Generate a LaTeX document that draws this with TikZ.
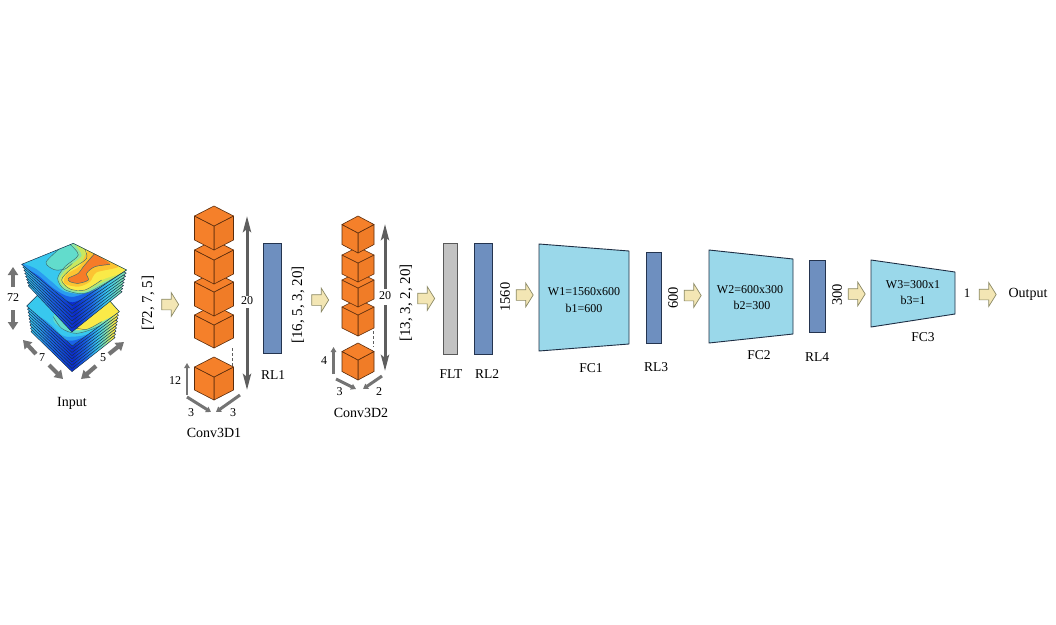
\documentclass[tikz,border=0pt]{standalone}
\usepackage{fontspec}
\setmainfont{Liberation Serif}
\usetikzlibrary{arrows.meta,shapes.arrows,calc}
\definecolor{cubeface}{HTML}{F5802A}
\definecolor{cubeside}{HTML}{F07C27}
\definecolor{cubeedge}{HTML}{5A2C0C}
\definecolor{rlblue}{HTML}{6E8FBF}
\definecolor{rledge}{HTML}{24344F}
\definecolor{fcblue}{HTML}{9AD8EA}
\definecolor{fcedge}{HTML}{1E2E44}
\definecolor{fltgray}{HTML}{C2C2C2}
\definecolor{flowfill}{HTML}{F3E6B4}
\definecolor{flowedge}{HTML}{8C8A66}
\definecolor{dimdark}{HTML}{5E5E5E}
\definecolor{dimgray}{HTML}{747474}
\definecolor{sheetline}{HTML}{16304C}
\definecolor{isoline}{HTML}{3A6A70}
\definecolor{mapcyan}{HTML}{38C8EE}
\definecolor{mapsky}{HTML}{2A9CF0}
\definecolor{mapblue}{HTML}{1A62E6}
\definecolor{mapdeep}{HTML}{0C2CCC}
\definecolor{mapaqua}{HTML}{62DCCC}
\definecolor{mapmint}{HTML}{8CE4A4}
\definecolor{maplime}{HTML}{C8E860}
\definecolor{mapyellow}{HTML}{FAEA48}
\definecolor{mapamber}{HTML}{FCC432}
\definecolor{maporange}{HTML}{F67C28}
\pgfdeclarehorizontalshading{sheetupper}{100bp}{
  color(0bp)=(mapcyan); color(25bp)=(mapcyan);
  color(38bp)=(mapblue); color(50bp)=(mapdeep); color(58bp)=(mapblue);
  color(66bp)=(mapcyan); color(75bp)=(mapmint); color(100bp)=(mapmint)}
\pgfdeclarehorizontalshading{sheetlower}{100bp}{
  color(0bp)=(mapcyan); color(25bp)=(mapcyan);
  color(38bp)=(mapblue); color(50bp)=(mapdeep); color(57bp)=(mapblue);
  color(64bp)=(mapcyan); color(69bp)=(mapmint); color(73bp)=(mapyellow); color(75bp)=(mapyellow); color(100bp)=(mapyellow)}
\newcommand{\solidcube}[5]{%
  % centre x, front vertex y, half width, half height of the top face, side height
  \fill[cubeside,draw=cubeedge,line width=.6pt,line join=round]
    (#1,#2) -- (#1+#3,#2-#4) -- (#1+#3,#2-#4+#5) -- (#1,#2+#5) -- cycle;
  \fill[cubeface,draw=cubeedge,line width=.6pt,line join=round]
    (#1,#2) -- (#1-#3,#2-#4) -- (#1-#3,#2-#4+#5) -- (#1,#2+#5) -- cycle;
  \fill[cubeface,draw=cubeedge,line width=.6pt,line join=round]
    (#1,#2) -- (#1-#3,#2-#4) -- (#1,#2-2*#4) -- (#1+#3,#2-#4) -- cycle;
}
\tikzset{
  flow/.style={single arrow,draw=flowedge,fill=flowfill,line width=.7pt,inner xsep=0pt,inner ysep=5pt,
    minimum height=17pt,single arrow head extend=6.5pt,single arrow tip angle=116,
    single arrow head indent=0pt},
  rl/.style={draw=rledge,fill=rlblue,line width=.9pt,inner sep=0pt},
  flt/.style={draw=black!65,fill=fltgray,line width=.9pt,inner sep=0pt},
  fc/.style={draw=fcedge,fill=fcblue,line width=.9pt,line join=round},
  lab/.style={font=\fontsize{13.5}{15}\selectfont,inner sep=0pt},
  shapelab/.style={font=\fontsize{15}{17}\selectfont,inner sep=0pt,rotate=90},
  sizelab/.style={font=\fontsize{14.5}{16}\selectfont,inner sep=0pt,rotate=90},
  weight/.style={font=\fontsize{12}{14}\selectfont,inner sep=0pt},
  dimlab/.style={font=\fontsize{12}{14}\selectfont,inner sep=0pt},
  longdim/.style={draw=dimdark,line width=3pt,-{Stealth[length=16pt,width=8pt,inset=3pt,fill=dimdark]}},
  shortdim/.style={draw=dimgray,line width=3pt,-{Triangle[length=5pt,width=6pt,fill=dimgray]}},
  shortup/.style={draw=dimgray,line width=2.4pt,-{Triangle[length=5pt,width=5.5pt,fill=dimgray]}},
  inputdim/.style={draw=dimgray,line width=4.2pt,-{Triangle[length=8pt,width=10pt,fill=dimgray]}},
  sheet/.style={draw=sheetline,line width=.5pt,line join=round}
}
\begin{document}
\begin{tikzpicture}[x=1pt,y=-1pt]
\useasboundingbox (0,0) rectangle (1056,624);
\fill[white] (0,0) rectangle (1056,624);

% lower block of the input volume
\foreach \i in {8,...,1}{
  \path[sheet,shading=sheetlower]
    ({27+\i*0.5},{306+\i*3.2}) -- ({73},{262+\i*3.2}) -- ({119-\i*0.5},{312+\i*3.2}) -- (72,{346+\i*3.2}) -- cycle;
}
\begin{scope}[shift={(15,300)},x=.3333pt,y=-.3333pt]
  \begin{scope}
    \clip (35,18) -- (175,-120) -- (313,35) -- (172,138) -- cycle;
    \fill[mapcyan] (0,-120) rectangle (340,138);
    \fill[mapsky] plot[smooth cycle] coordinates {(30,40) (90,60) (140,105) (172,110) (225,100) (330,40) (330,150) (30,150)};
    \fill[mapblue] plot[smooth cycle] coordinates {(60,60) (100,85) (140,115) (172,122) (205,112) (260,90) (250,150) (70,150)};
    \fill[mapaqua] plot[smooth cycle] coordinates {(115,50) (140,85) (185,100) (250,80) (330,30) (320,-20) (180,-30)};
    \fill[mapmint] plot[smooth cycle] coordinates {(150,70) (185,92) (240,80) (330,28) (320,-15) (200,0)};
    \fill[mapyellow] plot[smooth cycle] coordinates {(175,82) (215,88) (260,65) (330,25) (300,-10) (220,20)};
    \draw[isoline,line width=.45pt] plot[smooth] coordinates {(115,50) (140,85) (185,100) (250,80) (310,42)};
    \draw[isoline,line width=.45pt] plot[smooth] coordinates {(175,82) (215,88) (260,65)};
  \end{scope}
  \draw[sheet] (35,18) -- (175,-120) -- (313,35) -- (172,138) -- cycle;
\end{scope}

% upper block of the input volume
\foreach \i in {7,...,1}{
  \path[sheet,shading=sheetupper]
    ({22+\i*0.9},{264+\i*3.1}) -- (73,{243+\i*3.1}) -- ({127-\i*0.7},{270+\i*3.1}) -- (72,{306+\i*3.7}) -- cycle;
}
\begin{scope}[shift={(15,235)},x=.3333pt,y=-.3333pt]
  \begin{scope}
    \clip (20,88) -- (175,25) -- (335,105) -- (172,212) -- cycle;
    \fill[mapcyan] (0,20) rectangle (340,215);
    % contour bands, from the wide cool ones to the warm core
    \fill[mapsky] plot[smooth cycle] coordinates {(5,85) (60,100) (110,140) (150,170) (215,165) (290,130) (350,100) (345,235) (170,235) (5,130)};
    \fill[mapblue] plot[smooth cycle] coordinates {(25,100) (70,122) (115,160) (170,186) (250,158) (320,120) (330,225) (170,230) (40,145)};
    \fill[mapdeep] plot[smooth cycle] coordinates {(110,178) (172,202) (240,178) (250,225) (172,235) (100,225)};
    \fill[mapaqua] plot[smooth cycle] coordinates {(135,40) (93,82) (118,104) (150,104) (128,135) (150,168) (205,176) (265,152) (345,108) (260,45) (170,15)};
    \fill[mapmint] plot[smooth cycle] coordinates {(165,20) (190,60) (150,95) (128,130) (148,163) (205,174) (262,150) (345,105) (260,45)};
    \fill[maplime] plot[smooth cycle] coordinates {(185,30) (200,62) (158,98) (134,132) (155,160) (205,170) (260,143) (340,105) (265,50)};
    \fill[mapyellow] plot[smooth cycle] coordinates {(205,35) (215,70) (165,105) (140,135) (165,162) (210,165) (260,135) (330,105) (270,55)};
    \fill[mapamber] plot[smooth cycle] coordinates {(225,42) (195,92) (155,118) (148,145) (190,155) (225,140) (245,112) (310,95) (285,60)};
    \fill[maporange] plot[smooth cycle] coordinates {(240,55) (205,95) (190,115) (160,130) (165,140) (190,145) (220,135) (215,115) (240,95) (285,88) (262,70)};
    \draw[isoline,line width=.45pt] plot[smooth] coordinates {(135,40) (93,82) (118,104) (150,102) (172,85)};
    \draw[isoline,line width=.45pt] plot[smooth] coordinates {(165,28) (190,60) (150,95) (128,130) (148,163) (205,176) (262,150) (335,105)};
    \draw[isoline,line width=.45pt] plot[smooth] coordinates {(205,35) (215,70) (165,105) (140,135) (165,162) (210,165) (260,135)};
    \draw[isoline,line width=.45pt] plot[smooth] coordinates {(240,55) (205,95) (190,115) (160,130) (165,140) (190,145) (220,135) (215,115) (240,95) (285,88)};
  \end{scope}
  \draw[sheet] (20,88) -- (175,25) -- (335,105) -- (172,212) -- cycle;
\end{scope}

% size arrows around the input volume
\coordinate (iUa) at (13,287); \coordinate (iUb) at (13,267);
\coordinate (iDa) at (13,310); \coordinate (iDb) at (13,330);
\coordinate (iLa) at (36,354); \coordinate (iLb) at (23,340);
\coordinate (iMa) at (49,365); \coordinate (iMb) at (63,379);
\coordinate (iRa) at (109,354); \coordinate (iRb) at (124,342);
\coordinate (iSa) at (96,366); \coordinate (iSb) at (81,379);
\foreach \a/\b in {iUa/iUb,iDa/iDb,iLa/iLb,iMa/iMb,iRa/iRb,iSa/iSb}{\draw[inputdim] (\a) -- (\b);}
\node[dimlab] (n72) at (13,298) {72};
\node[dimlab] (n7) at (42,358) {7};
\node[dimlab] (n5) at (103,358) {5};
\node[lab,font=\fontsize{14}{16}\selectfont] (input) at (72,403) {Input};
\node[shapelab] (sh1) at (148,303) {[72, 7, 5]};
\node[flow] (f1) at (168.5,304.5) {};

% first convolution stage
\solidcube{214}{325}{19.5}{10}{23}
\solidcube{214}{292}{19.5}{10}{24}
\solidcube{214}{260}{19.5}{10}{24}
\solidcube{214}{226}{19.5}{10}{24}
\coordinate (c1a) at (232,348); \coordinate (c1b) at (232,366);
\draw[dimdark,line width=.7pt,densely dashed] (c1a) -- (c1b);
\solidcube{214}{377}{19.5}{10}{23}
\coordinate (c1Ua) at (247,296); \coordinate (c1Ub) at (247,216);
\coordinate (c1Da) at (247,308); \coordinate (c1Db) at (247,390);
\draw[longdim] (c1Ua) -- (c1Ub);
\draw[longdim] (c1Da) -- (c1Db);
\node[dimlab] (n20a) at (247,301) {20};
\coordinate (c1Ha) at (187,395); \coordinate (c1Hb) at (187,363);
\draw[shortup] (c1Ha) -- (c1Hb);
\coordinate (c1La) at (187,397); \coordinate (c1Lb) at (211,412);
\coordinate (c1Ra) at (240,395); \coordinate (c1Rb) at (216,412);
\draw[shortdim] (c1La) -- (c1Lb);
\draw[shortdim] (c1Ra) -- (c1Rb);
\node[dimlab] (n12) at (175,381) {12};
\node[dimlab] (n3a) at (191,413) {3};
\node[dimlab] (n3b) at (233,413) {3};
\node[lab,font=\fontsize{14}{16}\selectfont] (conva) at (214,433) {Conv3D1};

\node[rl,minimum width=18pt,minimum height=110pt] (rl1) at (272,298) {};
\node[lab] (rl1lab) at (273,375) {RL1};
\node[shapelab] (sh2) at (298,305) {[16, 5, 3, 20]};
\node[flow] (f2) at (318.5,300) {};

% second convolution stage
\solidcube{358}{315}{16}{8}{21}
\solidcube{358}{288}{16}{8}{19}
\solidcube{358}{263}{16}{8}{19}
\solidcube{358}{233}{16}{8.5}{20}
\coordinate (c2a) at (373,331); \coordinate (c2b) at (373,347);
\draw[dimdark,line width=.7pt,densely dashed] (c2a) -- (c2b);
\solidcube{358}{360}{16}{8.5}{20}
\coordinate (c2Ua) at (385,289); \coordinate (c2Ub) at (385,224);
\coordinate (c2Da) at (385,305); \coordinate (c2Db) at (385,371);
\draw[longdim] (c2Ua) -- (c2Ub);
\draw[longdim] (c2Da) -- (c2Db);
\node[dimlab] (n20b) at (385,296) {20};
\coordinate (c2Ha) at (333.5,374); \coordinate (c2Hb) at (333.5,347);
\draw[shortup] (c2Ha) -- (c2Hb);
\coordinate (c2La) at (336,379); \coordinate (c2Lb) at (356,389);
\coordinate (c2Ra) at (382,376); \coordinate (c2Rb) at (363,389);
\draw[shortdim] (c2La) -- (c2Lb);
\draw[shortdim] (c2Ra) -- (c2Rb);
\node[dimlab] (n4) at (324,361) {4};
\node[dimlab] (n3c) at (339.5,392) {3};
\node[dimlab] (n2) at (379,392) {2};
\node[lab,font=\fontsize{14}{16}\selectfont] (convb) at (361,413) {Conv3D2};
\node[shapelab] (sh3) at (406,303) {[13, 3, 2, 20]};
\node[flow] (f3) at (424.5,298.5) {};

% flatten and first regularisation
\node[flt,minimum width=14pt,minimum height=111pt] (flt) at (450,298.5) {};
\node[rl,minimum width=18pt,minimum height=111pt] (rl2) at (483,298.5) {};
\node[lab] (fltlab) at (451,374) {FLT};
\node[lab] (rl2lab) at (487,374) {RL2};
\node[sizelab] (s1560) at (505,297) {1560};
\node[flow] (f4) at (523,295) {};

% fully connected stages
\draw[fc] (539,244) -- (629,251) -- (629,344) -- (539,351) -- cycle;
\node[weight] (w1) at (584,291.5) {W1=1560x600};
\node[weight] (b1) at (584,308) {b1=600};
\node[lab] (fc1) at (591,368) {FC1};
\node[rl,minimum width=15pt,minimum height=91pt] (rl3) at (653.5,297.5) {};
\node[lab] (rl3lab) at (656,367) {RL3};
\node[sizelab] (s600) at (673,298) {600};
\node[flow] (f5) at (691,295.5) {};

\draw[fc] (709,250) -- (793,259) -- (793,334) -- (709,343) -- cycle;
\node[weight] (w2) at (750,290) {W2=600x300};
\node[weight] (b2) at (752,305) {b2=300};
\node[lab] (fc2) at (759,355) {FC2};
\node[rl,minimum width=16pt,minimum height=72pt] (rl4) at (817,296) {};
\node[lab] (rl4lab) at (817,357) {RL4};
\node[sizelab] (s300) at (837,295) {300};
\node[flow] (f6) at (855,294) {};

\draw[fc] (871,260) -- (955,272) -- (955,314) -- (871,327) -- cycle;
\node[weight] (w3) at (913,285) {W3=300x1};
\node[weight] (b3) at (913,300) {b3=1};
\node[lab] (fc3) at (923,337) {FC3};
\node[dimlab,font=\fontsize{13}{15}\selectfont] (one) at (967,293) {1};
\node[flow] (f7) at (986,294.5) {};
\node[lab,font=\fontsize{14}{16}\selectfont] (output) at (1028,294) {Output};
\end{tikzpicture}
\end{document}
